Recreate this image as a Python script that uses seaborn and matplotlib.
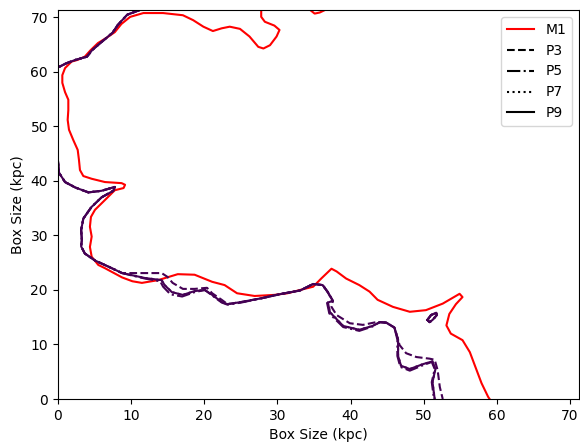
import matplotlib
matplotlib.use("Agg")
import matplotlib.pyplot as plt
from matplotlib.lines import Line2D
import seaborn as sns

# ---- data (kpc) ----
m1_x = [27.8, 27.8, 28.3, 29.6, 30.3, 29.9, 29.0, 28.1, 27.4, 26.2, 24.9, 23.5, 22.4, 21.2,
        19.9, 18.5, 17.1, 14.4, 11.7, 9.9, 8.7, 7.8, 6.6, 5.5, 4.5, 3.7, 2.7, 1.9, 1.0, 0.63,
        0.63, 1.0, 1.45, 1.45, 1.36, 1.54, 2.13, 2.73, 2.9, 3.04, 3.5, 4.64, 6.45, 8.73, 9.2,
        9.0, 7.8, 6.45, 5.09, 4.54, 4.4, 4.64, 4.4, 4.64, 5.54, 6.45, 8.8, 10.2, 11.5, 13.7,
        16.4, 18.7, 21.1, 22.8, 24.5, 26.9, 29.6, 31.4, 33.1, 34.9, 36.0, 37.4, 38.1, 39.4,
        41.2, 42.6, 43.7, 45.8, 48.1, 50.3, 52.6, 54.9, 55.3, 54.4, 53.5, 53.1, 53.7, 55.3,
        56.3, 57.0, 57.9, 58.8, 59.0]
m1_y = [71.35, 70.1, 69.2, 68.5, 67.7, 66.5, 64.9, 64.3, 64.6, 66.5, 67.9, 68.3, 68.0, 67.5,
        68.3, 69.5, 70.4, 70.8, 70.8, 70.1, 68.8, 67.3, 66.2, 65.3, 64.0, 62.8, 62.2, 61.9,
        60.7, 59.4, 58.0, 56.3, 54.9, 53.0, 51.2, 49.4, 47.5, 45.7, 43.9, 42.0, 40.9, 40.4,
        39.8, 39.6, 39.3, 38.7, 38.3, 36.5, 34.7, 33.4, 31.6, 29.8, 27.9, 26.1, 24.6, 24.0,
        22.3, 21.6, 21.3, 21.8, 22.9, 22.8, 21.5, 20.9, 19.4, 18.9, 19.1, 19.4, 20.0, 20.6,
        22.1, 23.9, 23.4, 22.1, 20.9, 19.7, 18.2, 16.9, 16.0, 16.3, 17.5, 19.3, 18.7, 17.4,
        15.6, 13.5, 12.0, 10.8, 8.6, 6.1, 2.9, 0.4, 0.0]
m1_arc_x = [34.5, 35.1, 35.8, 36.5]
m1_arc_y = [71.35, 70.7, 70.9, 71.35]

# upper-left piece shared by all P runs
pA_x = [11.2, 9.5, 8.2, 7.5, 6.0, 4.7, 4.0, 2.4, 1.2, 0.0]
pA_y = [71.35, 70.5, 68.6, 67.2, 65.5, 64.0, 62.8, 62.2, 61.6, 60.8]

# main lower piece
p9_x = [0.0, 0.08, 0.18, 1.0, 2.4, 4.2, 6.0, 7.8, 7.6, 6.0, 4.6, 3.5, 3.2, 3.3, 3.2, 3.7,
        5.1, 6.9, 8.8, 11.9, 14.2, 14.6, 15.6, 17.1, 18.7, 20.1, 21.1, 22.4, 23.2, 25.1,
        27.9, 30.6, 33.1, 34.9, 36.2, 36.9, 37.6, 36.9, 37.2, 39.0, 41.2, 43.0, 44.0, 44.9,
        46.0, 46.5, 46.5, 46.9, 48.1, 49.9, 51.2, 51.6, 51.2, 51.5]
p9_y = [44.2, 43.0, 41.5, 39.8, 38.8, 37.9, 38.2, 38.9, 38.2, 37.0, 35.2, 33.1, 31.0, 29.2,
        28.0, 26.7, 25.4, 24.3, 23.1, 22.2, 21.8, 20.9, 19.6, 19.1, 19.8, 20.0, 19.1, 17.8,
        17.4, 17.8, 18.5, 19.3, 19.9, 21.1, 20.9, 19.6, 18.0, 17.7, 15.9, 13.4, 12.7, 13.4,
        14.1, 14.0, 13.1, 10.9, 7.9, 6.1, 5.5, 6.4, 6.9, 5.5, 3.1, 0.0]

p7_x = p9_x
p7_y = p9_y

p5_x = [0.0, 0.08, 0.18, 1.0, 2.4, 4.2, 6.0, 7.8, 7.6, 6.0, 4.6, 3.5, 3.2, 3.3, 3.2, 3.7,
        5.1, 6.9, 8.8, 11.9, 14.0, 14.4, 15.4, 17.0, 18.7, 20.1, 21.1, 22.4, 23.2, 25.1,
        27.9, 30.6, 33.1, 34.9, 36.2, 36.9, 37.5, 36.8, 37.1, 39.0, 41.2, 43.0, 44.0, 44.9,
        46.0, 46.4, 46.4, 46.8, 48.1, 49.9, 51.1, 51.5, 51.1, 51.4]
p5_y = [44.2, 43.0, 41.5, 39.8, 38.8, 37.9, 38.2, 38.9, 38.2, 37.0, 35.2, 33.1, 31.0, 29.2,
        28.0, 26.7, 25.4, 24.3, 23.1, 22.1, 21.6, 20.6, 19.2, 18.8, 19.6, 20.0, 19.0, 17.7,
        17.3, 17.7, 18.5, 19.3, 19.9, 21.1, 20.9, 19.6, 18.0, 17.6, 15.7, 13.2, 12.5, 13.3,
        14.1, 14.0, 13.1, 10.9, 7.9, 5.9, 5.2, 6.2, 6.8, 5.5, 3.1, 0.0]

p3_x = [0.0, 0.08, 0.18, 1.0, 2.4, 4.2, 6.0, 7.8, 7.6, 6.0, 4.6, 3.5, 3.2, 3.3, 3.2, 3.7,
        5.1, 6.9, 8.8, 11.5, 14.2, 15.0, 15.7, 17.1, 18.7, 20.4, 21.1, 22.4, 23.2, 25.1,
        27.9, 30.6, 33.1, 34.9, 36.2, 36.9, 37.6, 37.4, 38.1, 39.9, 41.7, 43.5, 44.0, 44.9,
        46.0, 46.5, 46.7, 47.6, 49.0, 50.8, 51.5, 51.9, 52.2, 52.6]
p3_y = [44.2, 43.0, 41.5, 39.8, 38.8, 37.9, 38.2, 38.9, 38.2, 37.0, 35.2, 33.1, 31.0, 29.2,
        28.0, 26.7, 25.4, 24.3, 23.1, 23.1, 23.1, 22.4, 21.3, 20.2, 20.2, 20.4, 19.4, 18.2,
        17.4, 17.8, 18.5, 19.3, 19.9, 21.1, 20.9, 19.6, 18.0, 16.9, 15.4, 13.9, 13.6, 14.1,
        14.1, 14.0, 13.1, 10.9, 9.9, 8.4, 7.7, 7.4, 7.2, 5.3, 2.2, 0.0]

# small closed island near (51, 15)
isl_x = [50.5, 51.0, 51.7, 51.8, 51.2, 50.8, 50.5]
isl_y = [14.5, 15.4, 15.8, 15.4, 14.5, 14.1, 14.5]

labels = ["M1", "P3", "P5", "P7", "P9"]
styles = ["-", "--", "-.", ":", "-"]
box = 71.2

# ---- plot ----
fig = plt.figure(figsize=(5.8, 4.43), dpi=100)
ax = fig.add_axes([0.0995, 0.0993, 0.8986, 0.878])

red = "#ff0000"
purple = "#440154"

def draw(xs, ys, color, ls):
    sns.lineplot(x=xs, y=ys, sort=False, estimator=None, color=color,
                 linestyle=ls, linewidth=1.5, ax=ax, legend=False)

draw(m1_x, m1_y, red, "-")
draw(m1_arc_x, m1_arc_y, red, "-")

series = {"P3": (p3_x, p3_y), "P5": (p5_x, p5_y), "P7": (p7_x, p7_y), "P9": (p9_x, p9_y)}
for name, ls in zip(labels[1:], styles[1:]):
    xs, ys = series[name]
    draw(pA_x, pA_y, purple, ls)
    draw(xs, ys, purple, ls)
    draw(isl_x, isl_y, purple, ls)

ax.set_xlim(0, box)
ax.set_ylim(0, box + 0.15)
ax.set_xticks(range(0, 71, 10))
ax.set_yticks(range(0, 71, 10))
ax.set_xlabel("Box Size (kpc)")
ax.set_ylabel("Box Size (kpc)")

handles = [Line2D([], [], color=red if i == 0 else "black", linestyle=s, linewidth=1.5)
           for i, s in enumerate(styles)]
ax.legend(handles, labels, loc="upper right")

fig.savefig("out.png", dpi=100)
